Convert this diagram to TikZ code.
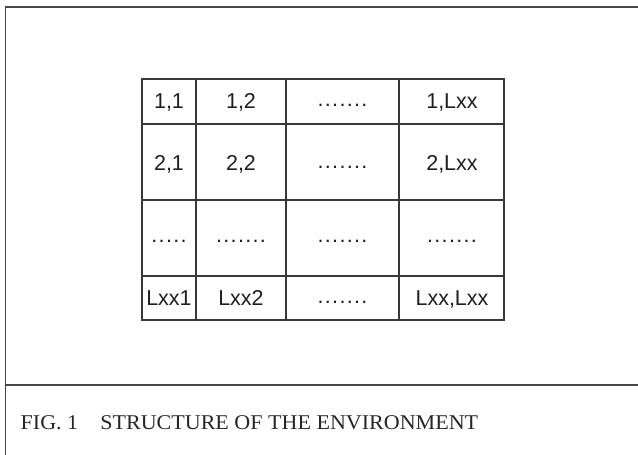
\documentclass[tikz,border=0pt]{standalone}
\usepackage{graphicx}
\usepackage{fontspec}
\setmainfont{Liberation Serif}
\newfontfamily\cellfont{Liberation Sans}
\newcommand\spacedots[1]{{\addfontfeature{LetterSpace=6}#1}}
\begin{document}
\begin{tikzpicture}[x=1pt,y=-1pt,
  framerule/.style={draw=black!72, line width=1.2pt},
  gridrule/.style={draw=black!78, line width=1.3pt},
  cell/.style={font=\cellfont\fontsize{21.5}{24}\selectfont, text=black!88, inner sep=0pt, anchor=base},
  caption/.style={font=\fontsize{21}{24}\selectfont, text=black!85, inner sep=0pt, anchor=base west},
]
\useasboundingbox (0,0) rectangle (638,455);

% outer frame and caption separator
\draw[framerule] (5.7,455) -- (5.7,7) -- (638,7);
\draw[framerule] (5.7,385) -- (638,385);

% grid of the environment
\def\xa{142}\def\xb{196}\def\xc{286}\def\xd{399}\def\xe{504}
\def\ya{79}\def\yb{124}\def\yc{200}\def\yd{276}\def\ye{320}
\draw[gridrule] (\xa,\ya) rectangle (\xe,\ye);
\foreach \x in {\xb,\xc,\xd} \draw[gridrule] (\x,\ya) -- (\x,\ye);
\foreach \y in {\yb,\yc,\yd} \draw[gridrule] (\xa,\y) -- (\xe,\y);

% cell labels (baselines)
\node[cell] (c11) at (169,108) {1,1};
\node[cell] (c12) at (241,108) {1,2};
\node[cell] (c13) at (342.5,106) {\spacedots{.......}};
\node[cell] (c14) at (452,108) {1,Lxx};

\node[cell] (c21) at (169,170) {2,1};
\node[cell] (c22) at (241,170) {2,2};
\node[cell] (c23) at (342.5,168) {\spacedots{.......}};
\node[cell] (c24) at (452,170) {2,Lxx};

\node[cell] (c31) at (169,242) {\spacedots{.....}};
\node[cell] (c32) at (241,242) {\spacedots{.......}};
\node[cell] (c33) at (342.5,242) {\spacedots{.......}};
\node[cell] (c34) at (452,242) {\spacedots{.......}};

\node[cell] (c41) at (169,305) {Lxx1};
\node[cell] (c42) at (241,305) {Lxx2};
\node[cell] (c43) at (342.5,303) {\spacedots{.......}};
\node[cell] (c44) at (452,305) {Lxx,Lxx};

% figure caption
\node[caption] (cap) at (20.5,429) {\scalebox{1.05}[1]{FIG. 1\hspace{1em}STRUCTURE OF THE ENVIRONMENT}};
\end{tikzpicture}
\end{document}
